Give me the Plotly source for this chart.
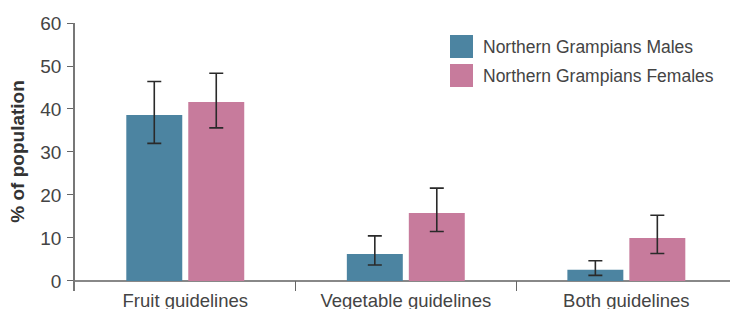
import plotly.graph_objects as go

categories = ["Fruit guidelines", "Vegetable guidelines", "Both guidelines"]
series_names = ["Northern Grampians Males", "Northern Grampians Females"]
males = [38.6, 6.3, 2.6]
males_low = [32.0, 3.7, 1.3]
males_high = [46.4, 10.5, 4.7]
females = [41.6, 15.8, 10.0]
females_low = [35.6, 11.5, 6.4]
females_high = [48.3, 21.6, 15.3]
y_ticks = [0, 10, 20, 30, 40, 50, 60]

BLUE = "#4c84a1"
PINK = "#c77b9c"
TXT = "#444444"
FONT = "Liberation Sans"

fig = go.Figure()
for name, vals, lo, hi, col in [
    (series_names[0], males, males_low, males_high, BLUE),
    (series_names[1], females, females_low, females_high, PINK),
]:
    fig.add_trace(go.Bar(
        x=categories, y=vals, name=name, marker=dict(color=col, line=dict(width=0)),
        showlegend=False,
        error_y=dict(type="data", symmetric=False,
                     array=[h - v for h, v in zip(hi, vals)],
                     arrayminus=[v - l for v, l in zip(vals, lo)],
                     color="#2a2a2a", thickness=1.6, width=7),
    ))

# legend built from shapes + text
legend_y = [(0.9552, 0.8694), (0.847, 0.7612)]
for (y1, y0), name, col in zip(legend_y, series_names, [BLUE, PINK]):
    fig.add_shape(type="rect", xref="paper", yref="paper", x0=0.5725, x1=0.6076,
                  y0=y0, y1=y1, fillcolor=col, line=dict(width=0))
    fig.add_annotation(xref="paper", yref="paper", x=0.6229, y=(y0 + y1) / 2,
                       text=name, showarrow=False, xanchor="left", yanchor="middle",
                       xshift=-2, font=dict(family=FONT, size=17.5, color=TXT))

# y axis title
fig.add_annotation(xref="paper", yref="paper", x=-0.087, y=0.52, textangle=-90,
                   text="<b>% of population</b>", showarrow=False,
                   xanchor="center", yanchor="middle",
                   font=dict(family=FONT, size=19, color="#333333"))

fig.update_layout(
    width=730, height=309,
    margin=dict(l=75, r=0, t=23, b=18),
    paper_bgcolor="white", plot_bgcolor="white",
    barmode="group", bargap=0.438, bargroupgap=0.097,
    font=dict(family=FONT, size=17.5, color=TXT),
    xaxis=dict(range=[-0.5, 2.47], showgrid=False, showline=False, zeroline=False,
               automargin=False,
               ticks="inside", tickson="boundaries", ticklen=10, tickwidth=1.2,
               tickcolor="#666666", tickfont=dict(family=FONT, size=18.5, color=TXT),
               ticklabelstandoff=-4),
    yaxis=dict(range=[-2.33, 60], tickvals=y_ticks, showgrid=False, automargin=False,
               showline=True, linecolor="#777777", linewidth=1.5,
               ticks="outside", ticklen=6, tickwidth=1.2, tickcolor="#666666",
               zeroline=True, zerolinecolor="#888888", zerolinewidth=2,
               tickfont=dict(family=FONT, size=19, color=TXT),
               ticklabelstandoff=2),
)

fig.write_html("out.html", config={"displayModeBar": False},
               post_script="document.body.style.margin='0';document.body.style.overflow='hidden';")
